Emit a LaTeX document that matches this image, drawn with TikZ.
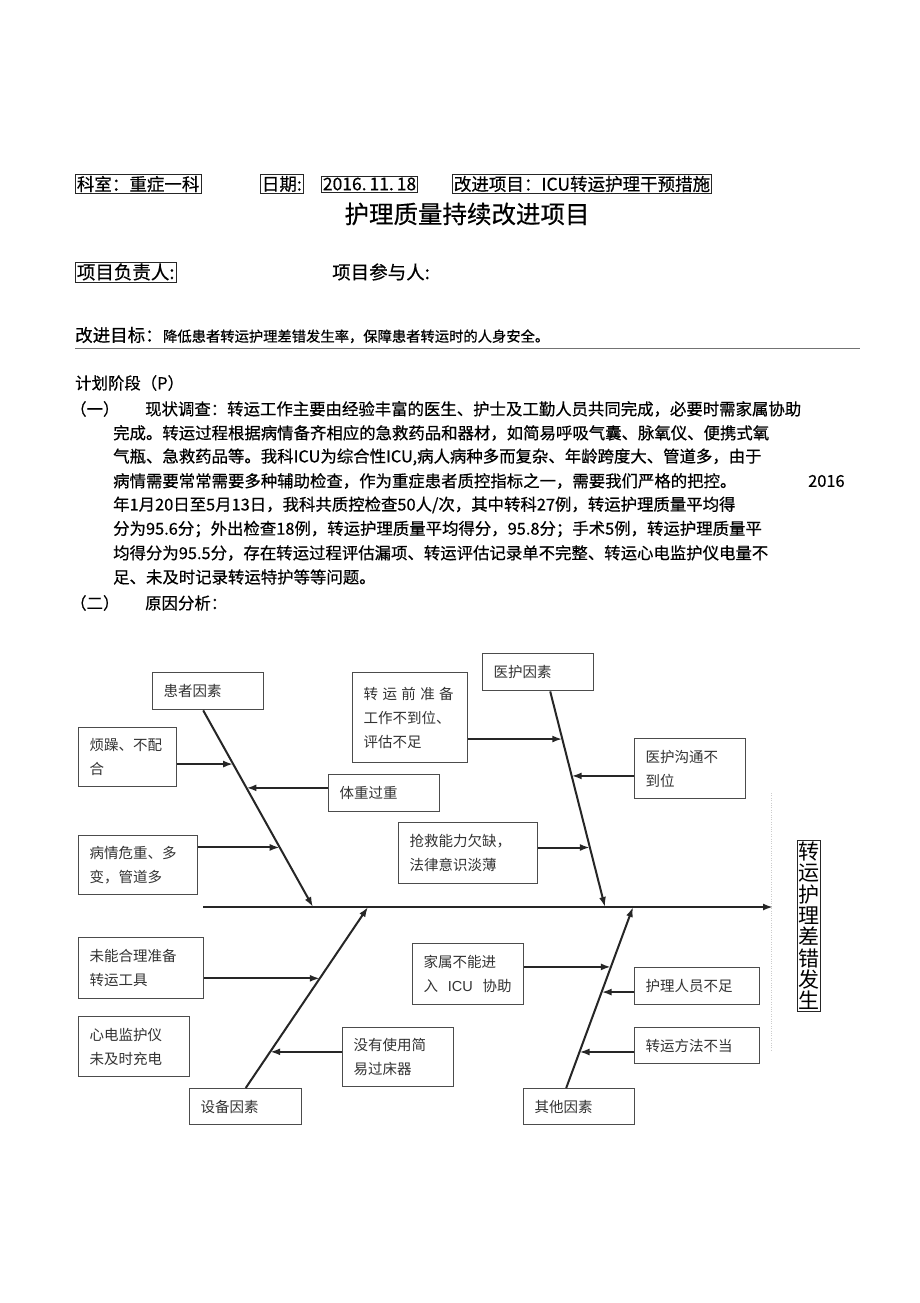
\documentclass[tikz,border=0pt]{standalone}
\usepackage{fontspec}
\setmainfont{Noto Sans CJK SC}
\newfontfamily\heavyfont{Noto Sans CJK SC}[FakeBold=0.5]
\newfontfamily\latinfont{Liberation Sans}
\usepackage{tikz}
\usetikzlibrary{arrows.meta}
\usetikzlibrary{calc}

\newcommand{\fs}[2]{\fontsize{#1}{#2}\selectfont}

\begin{document}
\begin{tikzpicture}[x=1pt, y=-1pt, head/.style={draw=black!85, line width=0.8pt, inner sep=1.5pt, anchor=west, font=\heavyfont\fs{17.5}{20}}, txt/.style={anchor=west, inner sep=0pt, font=\heavyfont\fs{16.4}{24}}, cause/.style={rectangle, draw=black!70, line width=1.4pt, anchor=north west, inner xsep=11pt, inner ysep=0pt, align=left, text=black!80, font=\fs{14.5}{24}}, line/.style={line width=2pt, draw=black!85}, arrow/.style={line width=2pt, draw=black!85, ->, >={Latex[length=10pt,width=7pt]}}]
\fill [white] (0,0) rectangle (920,1303);
\useasboundingbox (0,0) rectangle (920,1303);
% header
\node [head] (ks) at (75,184) {科室：重症一科};
\node [head] (rq) at (260,184) {日期:};
\node [head] (rqv) at (321,184) {2016.\,11.\,18};
\node [head] (gx) at (452,184) {改进项目：ICU转运护理干预措施};
\node [font=\heavyfont\fs{24.5}{28}] (bt) at (467,214) {护理质量持续改进项目};
\node [head, font=\heavyfont\fs{18.5}{22}] (fzr) at (75,272) {项目负责人:};
\node [txt, font=\heavyfont\fs{18.5}{22}] (cyr) at (332,272) {项目参与人:};
\node [txt, font=\heavyfont\fs{17.5}{20}] (mb) at (75,335) {改进目标：};
\node [anchor=base west, inner sep=0pt, font=\heavyfont\fs{14.3}{18}] (mbv) at (mb.base east) {降低患者转运护理差错发生率，保障患者转运时的人身安全。};
\draw [black!55, line width=0.8pt] (75,348) -- (860,348);
% plan text
\node [txt] (jh) at (75,383) {计划阶段（P）};
\node [txt] (n1) at (70,409) {（一）};
\node [txt] (l1) at (145,409) {现状调查：转运工作主要由经验丰富的医生、护士及工勤人员共同完成，必要时需家属协助};
\node [txt] (l2) at (113,433) {完成。转运过程根据病情备齐相应的急救药品和器材，如简易呼吸气囊、脉氧仪、便携式氧};
\node [txt] (l3) at (113,457) {气瓶、急救药品等。我科ICU为综合性ICU,病人病种多而复杂、年龄跨度大、管道多，由于};
\node [txt] (l4) at (113,481) {病情需要常常需要多种辅助检查，作为重症患者质控指标之一，需要我们严格的把控。};
\node [txt] (l4b) at (808,481) {2016};
\node [txt] (l5) at (113,505) {年1月20日至5月13日，我科共质控检查50人/次，其中转科27例，转运护理质量平均得};
\node [txt] (l6) at (113,529) {分为95.6分；外出检查18例，转运护理质量平均得分，95.8分；手术5例，转运护理质量平};
\node [txt] (l7) at (113,553) {均得分为95.5分，存在转运过程评估漏项、转运评估记录单不完整、转运心电监护仪电量不};
\node [txt] (l8) at (113,577) {足、未及时记录转运特护等等问题。};
\node [txt] (n2) at (70,603) {（二）};
\node [txt] (yy) at (145,603) {原因分析：};
% fishbone boxes
\node [cause, text width=89pt, minimum height=37pt] (hz) at (152,672) {患者因素};
\node [cause, text width=76pt, minimum height=59pt] (fz) at (78,727) {烦躁、不配\\合};
\node [cause, text width=89pt, minimum height=37pt] (tz) at (328,774) {体重过重};
\node [cause, text width=97pt, minimum height=59pt] (bq) at (78,835) {病情危重、多\\变，管道多};
\node [cause, text width=93pt, minimum height=90pt] (zb) at (352,672) {\makebox[90pt][l]{转\hfill 运\hfill 前\hfill 准\hfill 备}\\工作不到位、\\评估不足};
\node [cause, text width=89pt, minimum height=37pt] (yh) at (482,653) {医护因素};
\node [cause, text width=89pt, minimum height=60pt] (gt) at (634,738) {医护沟通不\\到位};
\node [cause, text width=117pt, minimum height=61pt] (qj) at (398,822) {抢救能力欠缺，\\法律意识淡薄};
\node [cause, text width=103pt, minimum height=61pt] (wn) at (78,937) {未能合理准备\\转运工具};
\node [cause, text width=89pt, minimum height=60pt] (xd) at (78,1016) {心电监护仪\\未及时充电};
\node [cause, text width=90pt, minimum height=36pt] (sb) at (189,1088) {设备因素};
\node [cause, text width=89pt, minimum height=59pt] (my) at (342,1027) {没有使用简\\易过床器};
\node [cause, text width=89pt, minimum height=61pt] (js) at (412,943) {家属不能进\\入\ \ {\latinfont ICU}\ \ 协助};
\node [cause, text width=103pt, minimum height=37pt] (hl) at (634,967) {护理人员不足};
\node [cause, text width=103pt, minimum height=36pt] (zf) at (634,1027) {转运方法不当};
\node [cause, text width=89pt, minimum height=36pt] (qt) at (523,1088) {其他因素};
\node [draw=black!85, line width=0.8pt, anchor=north west, inner xsep=1pt, inner ysep=0pt, text width=21pt, minimum height=171pt, align=center, font=\fs{21}{21.3}] (xg) at (797,840) {转\\运\\护\\理\\差\\错\\发\\生};
\draw [black!20, dotted] (771,793) -- (771,1050);
% spine and bones
\coordinate (s0) at (203,907);
\coordinate (s1) at (773,907);
\draw [arrow] (s0) -- (s1);
\coordinate (hzA) at ([xshift=-5pt]hz.south);
\coordinate (hzB) at (313,907);
\coordinate (yhA) at ([xshift=12pt]yh.south);
\coordinate (yhB) at (605,907);
\coordinate (sbA) at (sb.north);
\coordinate (sbB) at (368,907);
\coordinate (qtA) at ([xshift=-13pt]qt.north);
\coordinate (qtB) at (633,907);
\draw [arrow] (hzA) -- (hzB);
\draw [arrow] (yhA) -- (yhB);
\draw [arrow] (sbA) -- (sbB);
\draw [arrow] (qtA) -- (qtB);
% branches
\coordinate (fzP) at ($(hzA)!0.273!(hzB)$);
\coordinate (tzP) at ($(hzA)!0.394!(hzB)$);
\coordinate (bqP) at ($(hzA)!0.697!(hzB)$);
\coordinate (zbP) at ($(yhA)!0.221!(yhB)$);
\coordinate (gtP) at ($(yhA)!0.392!(yhB)$);
\coordinate (qjP) at ($(yhA)!0.724!(yhB)$);
\coordinate (wnP) at ($(sbA)!0.606!(sbB)$);
\coordinate (myP) at ($(sbA)!0.2!(sbB)$);
\coordinate (jsP) at ($(qtA)!0.669!(qtB)$);
\coordinate (hlP) at ($(qtA)!0.53!(qtB)$);
\coordinate (zfP) at ($(qtA)!0.199!(qtB)$);
\draw [arrow] (fzP -| fz.east) -- (fzP);
\draw [arrow] (tzP -| tz.west) -- (tzP);
\draw [arrow] (bqP -| bq.east) -- (bqP);
\draw [arrow] (zbP -| zb.east) -- (zbP);
\draw [arrow] (gtP -| gt.west) -- (gtP);
\draw [arrow] (qjP -| qj.east) -- (qjP);
\draw [arrow] (wnP -| wn.east) -- (wnP);
\draw [arrow] (myP -| my.west) -- (myP);
\draw [arrow] (jsP -| js.east) -- (jsP);
\draw [arrow] (hlP -| hl.west) -- (hlP);
\draw [arrow] (zfP -| zf.west) -- (zfP);
\end{tikzpicture}
\end{document}
